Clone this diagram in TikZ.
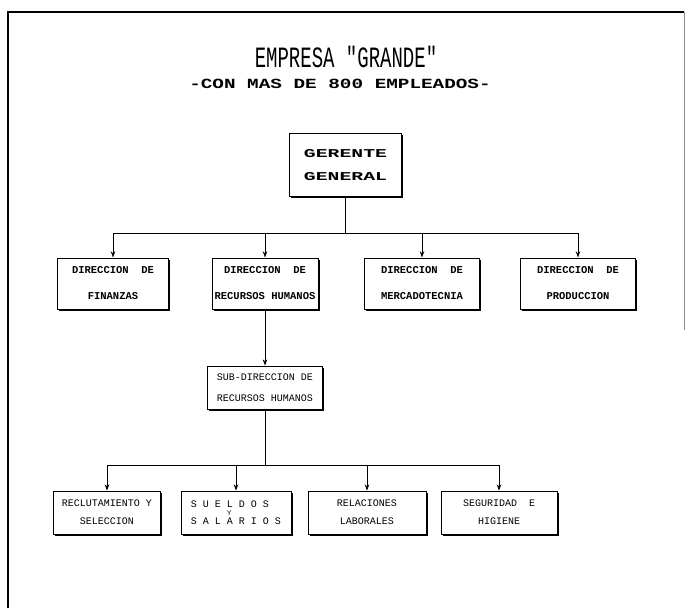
\documentclass[tikz,border=0pt]{standalone}
\usepackage{fontspec}
\setmonofont{Liberation Mono}
\usetikzlibrary{arrows.meta, shadows}

\begin{document}
\begin{tikzpicture}[x=1pt, y=-1pt,
  unit/.style={draw, fill=white, line width=1pt, align=center, inner sep=2pt,
    drop shadow={shadow xshift=1.8pt, shadow yshift=-1.8pt, fill=black, opacity=1},
    font=\ttfamily\bfseries\fontsize{10.5}{26}\selectfont},
  subunit/.style={unit, line width=0.8pt, font=\ttfamily\fontsize{10}{18}\selectfont},
  link/.style={-{Stealth[length=2.2mm, width=1.6mm]}, line width=0.8pt},
  bus/.style={line width=0.8pt}
]
  \useasboundingbox (0,0) rectangle (693,608);
  % marco de la hoja
  \draw[line width=2.4pt] (8,608) -- (8,12) -- (684,12);
  \draw[line width=0.4pt, black!45] (684,12) -- (684,330);

  % titulos
  \node (title) at (346,57) [font=\ttfamily\fontsize{19}{20}\selectfont, yscale=1.55, xscale=1.0, transform shape] {EMPRESA "GRANDE"};
  \node (subtitle) at (340,84) [font=\ttfamily\bfseries\fontsize{14}{16}\selectfont, xscale=1.38, transform shape] {-CON MAS DE 800 EMPLEADOS-};

  % nodos
  \node[unit, minimum width=112pt, minimum height=63pt, line width=1.2pt,
    font=\ttfamily\bfseries\fontsize{12}{23}\selectfont] (ger) at (345.5,165) {\scalebox{1.65}[1]{GERENTE}\\\scalebox{1.65}[1]{GENERAL}};
  \node[unit, minimum width=111pt, minimum height=51pt] (fin) at (113,283.5) {DIRECCION\ \ DE\\FINANZAS};
  \node[unit, minimum width=106pt, minimum height=51pt] (rh) at (265,283.5) {DIRECCION\ \ DE\\RECURSOS HUMANOS};
  \node[unit, minimum width=115pt, minimum height=51pt] (mer) at (422,283.5) {DIRECCION\ \ DE\\MERCADOTECNIA};
  \node[unit, minimum width=115pt, minimum height=51pt] (pro) at (578,283.5) {DIRECCION\ \ DE\\PRODUCCION};
  \node[subunit, minimum width=115pt, minimum height=43pt,
    font=\ttfamily\fontsize{10}{21}\selectfont] (sub) at (265,387.5) {SUB-DIRECCION DE\\RECURSOS HUMANOS};
  \node[subunit, minimum width=107pt, minimum height=43pt] (rec) at (107,512.5) {RECLUTAMIENTO Y\\SELECCION};
  \node[subunit, minimum width=110pt, minimum height=43pt, align=left,
    font=\ttfamily\fontsize{10}{8.5}\selectfont] (sue) at (236,512.5) {S U E L D O S\\\ \ \ \ \ \ {\scriptsize Y}\\S A L A R I O S};
  \node[subunit, minimum width=118pt, minimum height=43pt] (rel) at (367,512.5) {RELACIONES\\LABORALES};
  \node[subunit, minimum width=116pt, minimum height=43pt] (seg) at (499,512.5) {SEGURIDAD\ \ E\\HIGIENE};

  % conectores
  \coordinate (b1) at (345.5,233);
  \coordinate (b2) at (265,465);
  \draw[bus] (ger) -- (b1);
  \draw[link] (b1) -| (fin);
  \draw[link] (b1) -| (rh);
  \draw[link] (b1) -| (mer);
  \draw[link] (b1) -| (pro);
  \draw[link] (rh) -- (sub);
  \draw[bus] (sub) -- (b2);
  \draw[link] (b2) -| (rec);
  \draw[link] (b2) -| (sue);
  \draw[link] (b2) -| (rel);
  \draw[link] (b2) -| (seg);
\end{tikzpicture}
\end{document}
